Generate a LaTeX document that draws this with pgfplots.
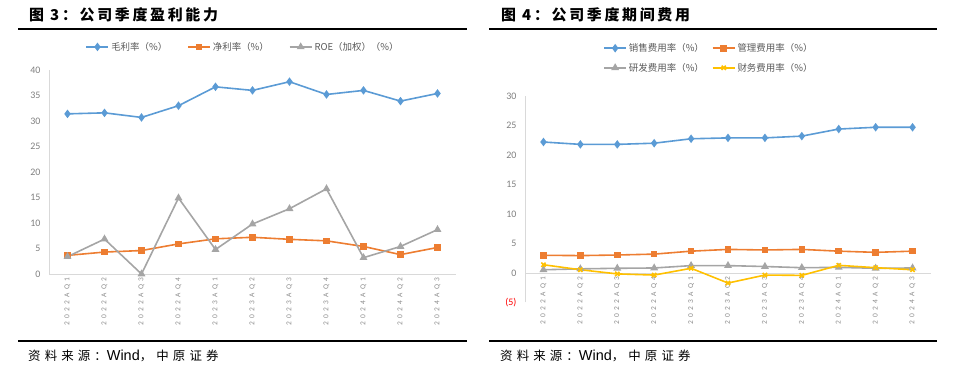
\documentclass[border=0pt]{standalone}
\usepackage{pgfplots}
\pgfplotsset{compat=1.18}
\usepackage{fontspec}
\setmainfont{Carlito}
\newfontfamily\cjk{Noto Sans CJK SC}
\newfontfamily\cjkb[LetterSpace=18]{Noto Sans CJK SC}
\newfontfamily\cjksrc[LetterSpace=33]{Noto Sans CJK SC}
\newfontfamily\latsrc{Liberation Sans}
\newfontfamily\ticklab[LetterSpace=45]{Carlito}
\definecolor{cblue}{HTML}{5B9BD5}
\definecolor{corange}{HTML}{ED7D31}
\definecolor{cgray}{HTML}{A5A5A5}
\definecolor{cyellow}{HTML}{FFC000}
\definecolor{axgray}{HTML}{D9D9D9}
\definecolor{txtgray}{HTML}{595959}
\definecolor{ygray}{HTML}{7F7F7F}
\definecolor{lblgray}{HTML}{8C8C8C}
\pgfplotsset{
  common/.style={
    scale only axis,
    xmin=-0.5, xmax=10.5,
    xtick={0,...,10},
    xticklabels={2022AQ1,2022AQ2,2022AQ3,2022AQ4,2023AQ1,2023AQ2,2023AQ3,2023AQ4,2024AQ1,2024AQ2,2024AQ3},
    axis line style={axgray, line width=0.75bp},
    major tick length=0pt,
    tick style={draw=none},
    /pgf/number format/assume math mode=true,
    yticklabel style={font=\fontsize{10}{10}\selectfont, text=ygray, xshift=-5bp},
    xticklabel style={rotate=90, anchor=east, font=\ticklab\fontsize{7.5}{7.5}\selectfont, text=lblgray},
    clip=false,
    legend cell align=left,
    legend image code/.code={\draw[mark repeat=2,mark phase=2] plot coordinates {(0bp,0bp) (11bp,0bp) (22bp,0bp)};},
  },
  sblue/.style={cblue, line width=1.6bp, mark=diamond*, mark size=3bp, mark options={solid, fill=cblue}},
  sorange/.style={corange, line width=1.6bp, mark=square*, mark size=2.5bp, mark options={solid, fill=corange}},
  sgray/.style={cgray, line width=1.6bp, mark=triangle*, mark size=3bp, mark options={solid, fill=cgray}},
  syellow/.style={cyellow, line width=1.6bp, mark=x, mark size=3bp, mark options={solid}},
}
\newcommand\src{{\cjksrc\fontsize{12.5}{12.5}\selectfont 资料来源：}{\latsrc\fontsize{14.5}{14.5}\selectfont Wind}{\cjksrc\fontsize{12.5}{12.5}\selectfont ，中原证券}}
\begin{document}
\begin{tikzpicture}
\useasboundingbox (0bp,0bp) rectangle (953bp,370bp);
% titles
\node[anchor=west, inner sep=0] at (29bp,355bp) {\cjkb\bfseries\fontsize{15}{15}\selectfont 图 3：公司季度盈利能力};
\node[anchor=west, inner sep=0] at (501bp,355bp) {\cjkb\bfseries\fontsize{15}{15}\selectfont 图 4：公司季度期间费用};
\draw[line width=2bp] (18bp,341bp) -- (467bp,341bp);
\draw[line width=2bp] (489bp,341bp) -- (937bp,341bp);
\draw[line width=2bp] (18bp,29bp) -- (467bp,29bp);
\draw[line width=2bp] (489bp,29bp) -- (937bp,29bp);
\node[anchor=west, inner sep=0] at (28bp,14bp) {\src};
\node[anchor=west, inner sep=0] at (500bp,14bp) {\src};

\begin{axis}[common,
  at={(49bp,96bp)}, anchor=south west,
  width=407bp, height=204bp,
  ymin=0, ymax=40, ytick={0,5,...,40},
  axis x line*=bottom, axis y line*=left,
  legend columns=3,
  legend style={at={(0.477,1.113)}, anchor=center, draw=none, fill=none,
    font=\cjk\fontsize{9.5}{9.5}\selectfont, text=txtgray,
    /tikz/every even column/.append style={column sep=18bp}},
]
\addplot[sblue] coordinates {(0,31.4) (1,31.6) (2,30.7) (3,33.0) (4,36.7) (5,36.0) (6,37.7) (7,35.2) (8,36.0) (9,33.9) (10,35.4)};
\addlegendentry{毛利率（\%）}
\addplot[sorange] coordinates {(0,3.65) (1,4.3) (2,4.6) (3,5.9) (4,6.9) (5,7.2) (6,6.8) (7,6.5) (8,5.4) (9,3.8) (10,5.2)};
\addlegendentry{净利率（\%）}
\addplot[sgray] coordinates {(0,3.4) (1,6.85) (2,0) (3,14.9) (4,4.8) (5,9.8) (6,12.8) (7,16.7) (8,3.2) (9,5.4) (10,8.7)};
\addlegendentry{ROE（加权）（\%）}
\end{axis}

\begin{axis}[common,
  at={(525bp,67.5bp)}, anchor=south west,
  width=406bp, height=206.5bp,
  ymin=-5, ymax=30, ytick={-5,0,5,...,30},
  yticklabels={{\textcolor{red}{(5)}},0,5,10,15,20,25,30},
  axis x line*=middle, axis y line*=left,
  legend columns=2,
  legend style={at={(0.453,1.184)}, anchor=center, draw=none, fill=none,
    font=\cjk\fontsize{9.5}{9.5}\selectfont, text=txtgray, row sep=6bp,
    /tikz/every even column/.append style={column sep=6bp}},
]
\addplot[sblue] coordinates {(0,22.2) (1,21.8) (2,21.8) (3,22.0) (4,22.75) (5,22.9) (6,22.9) (7,23.2) (8,24.4) (9,24.7) (10,24.7)};
\addlegendentry{销售费用率（\%）}
\addplot[sorange] coordinates {(0,3.0) (1,2.95) (2,3.05) (3,3.2) (4,3.7) (5,4.0) (6,3.9) (7,4.0) (8,3.7) (9,3.5) (10,3.7)};
\addlegendentry{管理费用率（\%）}
\addplot[sgray] coordinates {(0,0.55) (1,0.7) (2,0.8) (3,0.85) (4,1.25) (5,1.25) (6,1.1) (7,0.9) (8,0.95) (9,0.8) (10,0.85)};
\addlegendentry{研发费用率（\%）}
\addplot[syellow] coordinates {(0,1.4) (1,0.55) (2,-0.15) (3,-0.35) (4,0.8) (5,-1.7) (6,-0.35) (7,-0.4) (8,1.3) (9,0.9) (10,0.55)};
\addlegendentry{财务费用率（\%）}
\end{axis}
\end{tikzpicture}
\end{document}
